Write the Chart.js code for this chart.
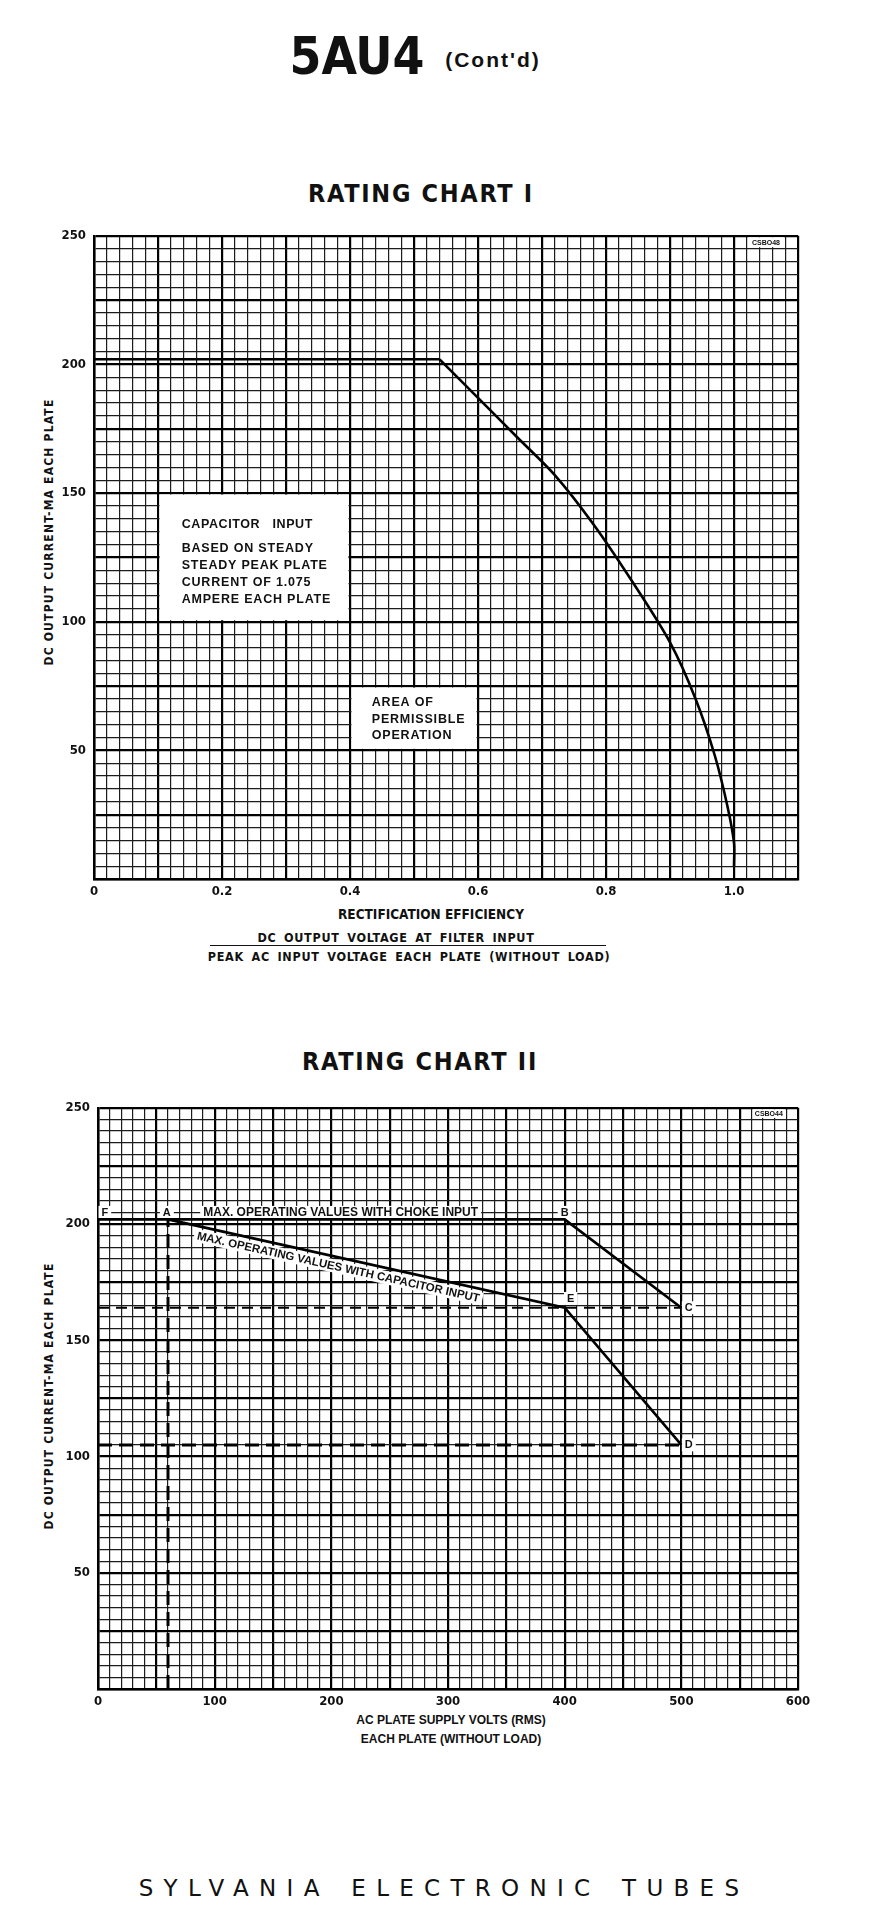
<!DOCTYPE html>
<html>
<head>
<meta charset="utf-8">
<title>5AU4 Rating Charts</title>
<script src="https://cdn.jsdelivr.net/npm/chart.js@4.4.1/dist/chart.umd.min.js"></script>
<style>
  html, body { margin: 0; padding: 0; background: #fff; }
  body { width: 878px; height: 1913px; position: relative; overflow: hidden; color: #111;
         font-family: "Liberation Sans Narrow", "DejaVu Sans Condensed", "Liberation Sans", sans-serif; }
  .t { position: absolute; white-space: nowrap; line-height: 1; transform: translate(-50%, -50%); }
  .rot { transform: translate(-50%, -50%) rotate(-90deg); }
  canvas { position: absolute; left: 0; }
</style>
</head>
<body>
<div class="t" style="left:357px;top:56px;font-size:51px;font-weight:bold;">5AU4</div>
<div class="t" style="left:493px;top:59px;font-size:21px;font-weight:bold;letter-spacing:2px;font-family:'Liberation Sans',sans-serif;">(Cont'd)</div>

<div class="t" style="left:421px;top:193px;font-size:25px;font-weight:bold;letter-spacing:1.7px;">RATING CHART I</div>
<div class="t rot" style="left:49px;top:532px;font-size:12px;font-weight:bold;letter-spacing:1.2px;">DC OUTPUT CURRENT-MA EACH PLATE</div>
<div class="t" style="left:431px;top:915px;font-size:13.5px;font-weight:bold;">RECTIFICATION EFFICIENCY</div>
<div class="t" style="left:396px;top:938px;font-size:12.5px;font-weight:bold;letter-spacing:0.7px;word-spacing:3px;">DC OUTPUT VOLTAGE AT FILTER INPUT</div>
<div style="position:absolute;left:210px;top:945px;width:396px;height:0;border-top:1.5px solid #111;"></div>
<div class="t" style="left:409px;top:957px;font-size:12.5px;font-weight:bold;letter-spacing:0.7px;word-spacing:3px;">PEAK AC INPUT VOLTAGE EACH PLATE (WITHOUT LOAD)</div>

<div class="t" style="left:420px;top:1061px;font-size:25px;font-weight:bold;letter-spacing:1.7px;">RATING CHART II</div>
<div class="t rot" style="left:49px;top:1396px;font-size:12px;font-weight:bold;letter-spacing:1.2px;">DC OUTPUT CURRENT-MA EACH PLATE</div>
<div class="t" style="left:451px;top:1720px;font-size:12px;font-weight:bold;font-family:'Liberation Sans',sans-serif;">AC PLATE SUPPLY VOLTS (RMS)</div>
<div class="t" style="left:451px;top:1739px;font-size:12px;font-weight:bold;font-family:'Liberation Sans',sans-serif;">EACH PLATE (WITHOUT LOAD)</div>

<div class="t" style="left:444px;top:1888px;font-size:23px;letter-spacing:10.3px;word-spacing:4px;font-family:'DejaVu Sans',sans-serif;">SYLVANIA ELECTRONIC TUBES</div>

<canvas id="chart1" width="878" height="690" style="top:220px"></canvas>
<canvas id="chart2" width="878" height="628" style="top:1092px"></canvas>

<script>
// ---- Rating Chart I : rectification efficiency vs DC output current ----
const flatEff = [0, 0.54];
const flatMa = [202, 202];
const curveEff = [0.54, 0.6, 0.66, 0.72, 0.78, 0.84, 0.9, 0.94, 0.97, 0.99, 1.0, 1.0];
const curveMa = [202, 187, 172, 157, 138, 116, 92, 70, 48, 28, 14, 5];
const effTickLabels = [0, 0.2, 0.4, 0.6, 0.8, 1.0];

// ---- Rating Chart II : AC plate supply volts vs DC output current ----
const chokeVolts = [0, 60, 400, 500];
const chokeMa = [202, 202, 202, 164];
const capVolts = [60, 400, 500];
const capMa = [202, 164, 105];
const refUpperVolts = [0, 500];
const refUpperMa = [164, 164];
const refLowerVolts = [0, 500];
const refLowerMa = [105, 105];
const refAVolts = [60, 60];
const refAMa = [0, 202];
const voltTickLabels = [0, 100, 200, 300, 400, 500, 600];

const maTickLabels = [50, 100, 150, 200, 250];

const TICK_FONT = '"Liberation Sans Narrow", "DejaVu Sans Condensed", sans-serif';
const NOTE_FONT = '"Liberation Sans", Arial, sans-serif';

const zip = (xs, ys) => xs.map((x, i) => ({ x: x, y: ys[i] }));

function axis(min, max, step, majorStep, labelVals, fmt, fitSize, isX) {
    const isMajor = v => Math.abs(v / majorStep - Math.round(v / majorStep)) < 1e-6;
    return {
        type: 'linear',
        min: min,
        max: max,
        afterFit: s => { if (isX) s.height = fitSize; else s.width = fitSize; },
        grid: {
            drawTicks: false,
            color: c => (c.tick && isMajor(c.tick.value)) ? '#000' : '#1c1c1c',
            lineWidth: c => (c.tick && isMajor(c.tick.value)) ? 2.2 : 1.2
        },
        border: { color: '#000', width: 2.5 },
        ticks: {
            stepSize: step,
            autoSkip: false,
            maxRotation: 0,
            minRotation: 0,
            padding: isX ? 5 : 8,
            color: '#111',
            font: { family: TICK_FONT, size: 13, weight: 'bold' },
            callback: v => {
                const hit = labelVals.find(l => Math.abs(l - v) < step / 10);
                return hit === undefined ? '' : fmt(hit);
            }
        }
    };
}

// white boxes and text notes drawn over the grid, in data units
function notesPlugin(boxes, notes) {
    return {
        id: 'notes',
        beforeDatasetsDraw(chart) {
            const ctx = chart.ctx;
            const xs = chart.scales.x, ys = chart.scales.y;
            ctx.save();
            boxes.forEach(b => {
                const l = xs.getPixelForValue(b.x0), r = xs.getPixelForValue(b.x1);
                const t = ys.getPixelForValue(b.y1), bt = ys.getPixelForValue(b.y0);
                ctx.fillStyle = '#fff';
                ctx.fillRect(l + 1.5, t + 1.5, r - l - 3, bt - t - 3);
            });
            notes.forEach(n => {
                ctx.save();
                ctx.font = n.font;
                ctx.letterSpacing = n.spacing || '0px';
                ctx.textBaseline = 'middle';
                ctx.textAlign = n.align || 'left';
                const px = xs.getPixelForValue(n.x), py = ys.getPixelForValue(n.y);
                ctx.translate(px, py);
                if (n.along) {
                    const a = n.along;
                    const dx = xs.getPixelForValue(a[2]) - xs.getPixelForValue(a[0]);
                    const dy = ys.getPixelForValue(a[3]) - ys.getPixelForValue(a[1]);
                    ctx.rotate(Math.atan2(dy, dx));
                }
                if (n.bg) {
                    const w = ctx.measureText(n.text).width;
                    const x0 = n.align === 'center' ? -w / 2 : (n.align === 'right' ? -w : 0);
                    ctx.fillStyle = '#fff';
                    ctx.fillRect(x0 - 3, -6.5, w + 6, 13);
                }
                ctx.fillStyle = '#111';
                ctx.fillText(n.text, 0, 0.5);
                ctx.restore();
            });
            ctx.restore();
        }
    };
}

const lineDs = (data, width, dash, tension) => ({
    data: data,
    showLine: true,
    borderColor: '#000',
    borderWidth: width,
    borderDash: dash || [],
    tension: tension || 0,
    pointRadius: 0,
    fill: false
});

const baseOptions = (xAxis, yAxis) => ({
    responsive: false,
    animation: false,
    layout: { padding: { top: 15, right: 80, left: 0, bottom: 0 } },
    plugins: { legend: { display: false }, tooltip: { enabled: false } },
    scales: { x: xAxis, y: yAxis }
});

const boxFont = 'bold 12.5px ' + NOTE_FONT;

new Chart(document.getElementById('chart1'), {
    type: 'scatter',
    data: {
        datasets: [
            lineDs(zip(flatEff, flatMa), 2.6),
            lineDs(zip(curveEff, curveMa), 2.6, null, 0.3)
        ]
    },
    options: baseOptions(
        axis(0, 1.1, 0.02, 0.1, effTickLabels, v => v === 0 ? '0' : v.toFixed(1), 31, true),
        axis(0, 250, 5, 25, maTickLabels, v => String(v), 94, false)
    ),
    plugins: [notesPlugin(
        [
            { x0: 0.1, x1: 0.4, y0: 100, y1: 150 },
            { x0: 0.4, x1: 0.6, y0: 50, y1: 75 },
            { x0: 1.02, x1: 1.08, y0: 245, y1: 250 }
        ],
        [
            { text: 'CAPACITOR   INPUT', x: 0.137, y: 138, font: boxFont, spacing: '0.6px' },
            { text: 'BASED ON STEADY', x: 0.137, y: 128.5, font: boxFont, spacing: '0.8px' },
            { text: 'STEADY PEAK PLATE', x: 0.137, y: 122, font: boxFont, spacing: '0.8px' },
            { text: 'CURRENT OF 1.075', x: 0.137, y: 115.5, font: boxFont, spacing: '0.8px' },
            { text: 'AMPERE EACH PLATE', x: 0.137, y: 109, font: boxFont, spacing: '0.8px' },
            { text: 'AREA OF', x: 0.434, y: 68.7, font: boxFont, spacing: '0.8px' },
            { text: 'PERMISSIBLE', x: 0.434, y: 62.3, font: boxFont, spacing: '0.8px' },
            { text: 'OPERATION', x: 0.434, y: 56, font: boxFont, spacing: '0.8px' },
            { text: 'CSBO48', x: 1.05, y: 247.5, font: 'bold 7px ' + NOTE_FONT, align: 'center' }
        ]
    )]
});

const ptFont = 'bold 11px ' + NOTE_FONT;
const capLine = [capVolts[0], capMa[0], capVolts[1], capMa[1]];

new Chart(document.getElementById('chart2'), {
    type: 'scatter',
    data: {
        datasets: [
            lineDs(zip(refUpperVolts, refUpperMa), 2, [11, 7]),
            lineDs(zip(refLowerVolts, refLowerMa), 3, [14, 7]),
            lineDs(zip(refAVolts, refAMa), 3, [14, 7]),
            lineDs(zip(chokeVolts, chokeMa), 2.6),
            lineDs(zip(capVolts, capMa), 2.6)
        ]
    },
    options: baseOptions(
        axis(0, 600, 10, 50, voltTickLabels, v => String(v), 31, true),
        axis(0, 250, 5, 25, maTickLabels, v => String(v), 98, false)
    ),
    plugins: [notesPlugin(
        [
            { x0: 560, x1: 590, y0: 245, y1: 250 }
        ],
        [
            { text: 'F', x: 3, y: 205, font: ptFont, bg: true },
            { text: 'A', x: 59, y: 205, font: ptFont, bg: true, align: 'center' },
            { text: 'MAX. OPERATING VALUES WITH CHOKE INPUT', x: 208, y: 205, font: 'bold 12px ' + NOTE_FONT, bg: true, align: 'center' },
            { text: 'B', x: 400, y: 205, font: ptFont, bg: true, align: 'center' },
            { text: 'C', x: 503, y: 164, font: ptFont, bg: true },
            { text: 'D', x: 503, y: 105, font: ptFont, bg: true },
            { text: 'E', x: 402, y: 168, font: ptFont, bg: true },
            { text: 'MAX. OPERATING VALUES WITH CAPACITOR INPUT', x: 206, y: 181.5, font: 'bold 11.5px ' + NOTE_FONT, bg: true, align: 'center', along: capLine },
            { text: 'CSBO44', x: 575, y: 247.5, font: 'bold 7px ' + NOTE_FONT, align: 'center' }
        ]
    )]
});
</script>
</body>
</html>
